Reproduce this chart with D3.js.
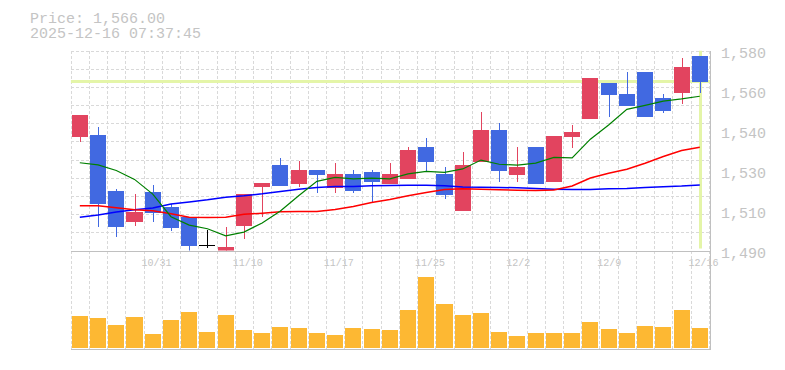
<!DOCTYPE html>
<html>
<head>
<meta charset="utf-8">
<script src="https://cdn.jsdelivr.net/npm/d3@7"></script>
<style>
  html, body { margin: 0; padding: 0; background: #fff; }
  svg text { font-family: "Liberation Mono", "DejaVu Sans Mono", monospace; }
</style>
</head>
<body>
<div id="vis"></div>
<script>
'use strict'

////////////////////////////////////////
//////////////// Data //////////////////
////////////////////////////////////////

const dates = [
  "10/27", "10/28", "10/29", "10/30", "10/31", "11/4", "11/5", "11/6", "11/7", "11/10",
  "11/11", "11/12", "11/13", "11/14", "11/17", "11/18", "11/19", "11/20", "11/21", "11/25",
  "11/26", "11/27", "11/28", "12/1", "12/2", "12/3", "12/4", "12/5", "12/8", "12/9",
  "12/10", "12/11", "12/12", "12/15", "12/16"
];

const open = [
  1541, 1542, 1517, 1503, 1516.5, 1509.5, 1505, 1492.5, 1489, 1501,
  1518.5, 1528.5, 1520, 1526.3, 1518.2, 1524.5, 1525.4, 1520, 1522.3, 1536.7,
  1524.5, 1508, 1530, 1544.3, 1524.2, 1536.7, 1521, 1541.2, 1549.3, 1565.5,
  1560.5, 1570.4, 1558.7, 1561, 1577.6
];
const high = [
  1551, 1545.5, 1517.5, 1515.5, 1519.5, 1511, 1505, 1499.3, 1500.5, 1515.5,
  1520.5, 1531.5, 1530.4, 1526.3, 1529.5, 1526.3, 1526.3, 1529.5, 1536.7, 1540.7,
  1527.7, 1534.4, 1552.4, 1547.5, 1536.7, 1536.7, 1541.6, 1546.6, 1567.7, 1565.5,
  1570.4, 1570.4, 1560.5, 1576.7, 1577.6
];
const low = [
  1539, 1500.4, 1496.3, 1501.2, 1503, 1498.9, 1490, 1491.3, 1488.5, 1495.4,
  1505.3, 1519, 1518.4, 1516, 1516, 1516, 1511.6, 1520, 1522.3, 1526,
  1513.4, 1508, 1530, 1521, 1521, 1520, 1521, 1536.2, 1549.3, 1550.2,
  1555, 1550.2, 1552, 1556, 1561
];
const close = [
  1551, 1511, 1500.5, 1507.5, 1507, 1500, 1492, 1492.5, 1491.5, 1515.5,
  1520.5, 1519, 1526.3, 1524, 1524.5, 1517, 1521, 1524.5, 1535.3, 1530,
  1515.2, 1528.6, 1544.3, 1526, 1527.7, 1520, 1541.6, 1543.4, 1567.7, 1560,
  1555, 1550.2, 1553, 1572.7, 1566
];

const volume = [
  32000, 30000, 23000, 31000, 14000, 28000, 36000, 16000, 33000, 18000,
  15000, 21000, 20000, 15000, 13000, 20000, 19000, 18000, 38000, 71300,
  44000, 33000, 35000, 16000, 12000, 15000, 15000, 15000, 26000, 19000,
  15000, 22000, 21000, 38000, 20000
];

// moving averages
const ma5 = [
  1529.5, 1528.5, 1526, 1522, 1515.4, 1505.2, 1501.4, 1499.8, 1496.6, 1498.3,
  1502.4, 1507.8, 1514.6, 1521.1, 1522.9, 1522.2, 1522.6, 1522.2, 1524.5, 1525.6,
  1525.2, 1526.7, 1530.7, 1528.8, 1528.4, 1529.3, 1531.9, 1531.7, 1540.1, 1546.5,
  1553.5, 1555.3, 1557.2, 1558.2, 1559.4
];
const ma25 = [
  1510.1, 1510.1, 1509.2, 1508.3, 1507.9, 1506.5, 1505, 1504.8, 1505, 1506.3,
  1506.8, 1507.4, 1507.6, 1507.6, 1508.4, 1509.8, 1511.6, 1513, 1514.6, 1516.1,
  1517.4, 1517.8, 1517.6, 1517.3, 1517.1, 1517, 1517.2, 1519, 1522.6, 1524.8,
  1526.6, 1529.3, 1532.3, 1535, 1536.5
];
const ma75 = [
  1505, 1506, 1507.3, 1508.3, 1509.1, 1510.9, 1511.8, 1512.8, 1514, 1514.6,
  1515.5, 1516.6, 1517.6, 1518.4, 1518.8, 1518.8, 1519.1, 1519.3, 1519.4, 1519.4,
  1519.1, 1518.6, 1518.5, 1518.4, 1518.2, 1517.9, 1517.6, 1517.4, 1517.5, 1517.8,
  1517.9, 1518.4, 1518.7, 1519, 1519.5
];

const lastPrice = 1566;
const stamp = "2025-12-16 07:37:45";
const priceTicks = [1490, 1508, 1526, 1544, 1562, 1580];

////////////////////////////////////////
/////////////// Options ////////////////
////////////////////////////////////////

const options = {
  width: 785,
  height: 370,
  left: 70.7,
  right: 708.9,
  priceTop: 50.5,
  priceBottom: 250.5,
  volTop: 268,
  volBottom: 348,
  up: "#e2445f",
  down: "#4169e1",
  even: "#000",
  vol: "#fdb833",
  grid: "#d9d9d9",
  axis: "#c0c0c0",
  text: "#c4c4c4",
  marker: "#e4f5a8"
}

////////////////////////////////////////
////////////// SVG Setup ///////////////
////////////////////////////////////////

const svg = d3.select('#vis').append('svg')
  .attr('width', options.width)
  .attr('height', options.height);

svg.append('defs').append('clipPath')
  .attr('id', 'priceClip')
  .append('rect')
  .attr('x', options.left)
  .attr('y', options.priceTop)
  .attr('width', options.right - options.left + 2)
  .attr('height', options.priceBottom - options.priceTop);

////////////////////////////////////////
////////////// Scales //////////////////
////////////////////////////////////////

const idx = d3.range(dates.length);

const x = d3.scaleBand()
  .domain(idx)
  .range([options.left, options.right])
  .paddingInner(0.12)
  .paddingOuter(0.06);

const step = x.step();
const cx = i => Math.round(x(i) + x.bandwidth() / 2) + 0.5;

const y = d3.scaleLinear()
  .domain([1490, 1580])
  .range([options.priceBottom, options.priceTop]);

const yv = d3.scaleLinear()
  .domain([0, 80000])
  .range([options.volBottom, options.volTop]);

////////////////////////////////////////
//////////////// Grid //////////////////
////////////////////////////////////////

const grid = svg.append('g')
  .attr('stroke', options.grid)
  .attr('stroke-dasharray', '3,2')
  .attr('shape-rendering', 'crispEdges');

// vertical lines at slot edges, through both panels
grid.selectAll('.vg')
  .data(d3.range(dates.length + 1))
  .join('line')
  .attr('x1', i => Math.round(options.left + i * step) + 0.5)
  .attr('x2', i => Math.round(options.left + i * step) + 0.5)
  .attr('y1', options.priceTop)
  .attr('y2', options.volBottom + 1);

// horizontal lines, 11 bands
grid.selectAll('.hg')
  .data(d3.range(11))
  .join('line')
  .attr('x1', options.left)
  .attr('x2', 710)
  .attr('y1', k => Math.round(options.priceTop + k * (options.priceBottom - options.priceTop) / 11) + 0.5)
  .attr('y2', k => Math.round(options.priceTop + k * (options.priceBottom - options.priceTop) / 11) + 0.5);

// frame
const frame = svg.append('g')
  .attr('stroke', options.axis)
  .attr('shape-rendering', 'crispEdges');

frame.append('line')
  .attr('x1', options.left).attr('x2', 710.5)
  .attr('y1', options.priceBottom + 0.5).attr('y2', options.priceBottom + 0.5);
frame.append('line')
  .attr('x1', options.left).attr('x2', 710.5)
  .attr('y1', options.volBottom + 1.5).attr('y2', options.volBottom + 1.5);
frame.append('line')
  .attr('x1', 710.5).attr('x2', 710.5)
  .attr('y1', options.priceTop).attr('y2', options.volBottom + 1.5);

////////////////////////////////////////
//////////// Price panel ///////////////
////////////////////////////////////////

const price = svg.append('g').attr('clip-path', 'url(#priceClip)');

// current price marker lines
price.append('line')
  .attr('x1', options.left).attr('x2', 710)
  .attr('y1', y(lastPrice)).attr('y2', y(lastPrice))
  .attr('stroke', options.marker)
  .attr('stroke-width', 3);

price.append('line')
  .attr('x1', cx(dates.length - 1)).attr('x2', cx(dates.length - 1))
  .attr('y1', options.priceTop).attr('y2', options.priceBottom - 2)
  .attr('stroke', options.marker)
  .attr('stroke-width', 3);

const colorOf = i => close[i] > open[i] ? options.up : close[i] < open[i] ? options.down : options.even;

const candles = price.append('g')
  .attr('shape-rendering', 'crispEdges')
  .selectAll('g')
  .data(idx)
  .join('g');

candles.append('line')
  .attr('x1', cx).attr('x2', cx)
  .attr('y1', i => y(high[i]))
  .attr('y2', i => y(low[i]))
  .attr('stroke', colorOf);

candles.append('rect')
  .attr('x', i => x(i))
  .attr('width', x.bandwidth())
  .attr('y', i => y(Math.max(open[i], close[i])))
  .attr('height', i => Math.max(1.5, Math.abs(y(open[i]) - y(close[i]))))
  .attr('fill', colorOf);

// moving averages
const maLine = arr => d3.line()
  .x(i => x(i) + x.bandwidth() / 2)
  .y(i => y(arr[i]))(idx);

[[ma75, "#0000ff", 1.5], [ma25, "#ff0000", 1.5], [ma5, "#008000", 1.2]].forEach(([arr, col, w]) => {
  price.append('path')
    .attr('d', maLine(arr))
    .attr('fill', 'none')
    .attr('stroke', col)
    .attr('stroke-width', w);
});

////////////////////////////////////////
//////////// Volume panel //////////////
////////////////////////////////////////

svg.append('g')
  .attr('shape-rendering', 'crispEdges')
  .selectAll('rect')
  .data(idx)
  .join('rect')
  .attr('x', i => x(i))
  .attr('width', x.bandwidth())
  .attr('y', i => yv(volume[i]))
  .attr('height', i => yv(0) - yv(volume[i]))
  .attr('fill', options.vol);

////////////////////////////////////////
//////////////// Texts /////////////////
////////////////////////////////////////

// price axis labels, rounded to tens like the original
svg.append('g')
  .selectAll('text')
  .data(priceTicks)
  .join('text')
  .attr('x', 721)
  .attr('y', d => y(d) + 7)
  .attr('font-size', 15)
  .attr('fill', options.text)
  .text(d => d3.format(",")(Math.round(d / 10) * 10));

// date labels every fifth day
svg.append('g')
  .selectAll('text')
  .data(idx.filter(i => i % 5 === 4))
  .join('text')
  .attr('x', i => x(i) + x.bandwidth() / 2 - 11.3)
  .attr('y', 266)
  .attr('font-size', 10)
  .attr('fill', options.text)
  .text(i => dates[i]);

// header
const head = svg.append('g')
  .attr('font-size', 15)
  .attr('fill', options.text);

head.append('text')
  .attr('x', 30).attr('y', 22.5)
  .text(`Price: ${d3.format(",.2f")(lastPrice)}`);

head.append('text')
  .attr('x', 30).attr('y', 37.5)
  .text(stamp);
</script>
</body>
</html>
